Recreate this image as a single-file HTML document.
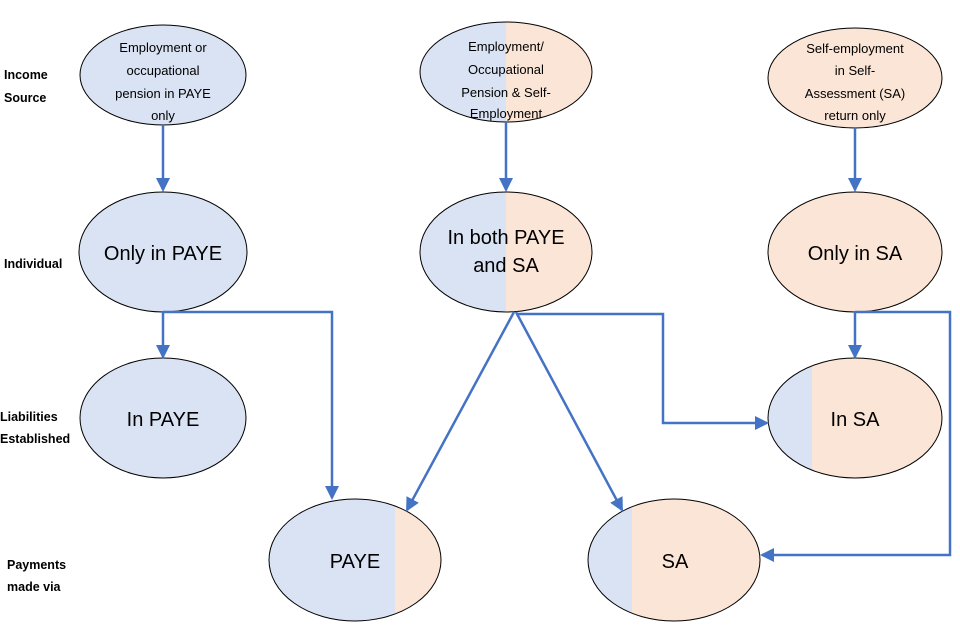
<!DOCTYPE html>
<html><head><meta charset="utf-8"><style>
html,body{margin:0;padding:0;background:#fff;}
svg{display:block;font-family:"Liberation Sans",sans-serif;}
</style></head><body>
<svg width="960" height="640" viewBox="0 0 960 640" xmlns="http://www.w3.org/2000/svg">
<defs>
<marker id="ah2" markerWidth="14" markerHeight="14" refX="12" refY="7" orient="auto" markerUnits="userSpaceOnUse" viewBox="0 0 14 14">
<path d="M0,0 L14,7 L0,14 z" fill="#4472c4"/></marker>
<clipPath id="c2"><ellipse cx="506" cy="72" rx="86" ry="50"/></clipPath>
<clipPath id="c5"><ellipse cx="506" cy="252" rx="86" ry="60"/></clipPath>
<clipPath id="c8"><ellipse cx="855" cy="418" rx="87" ry="60"/></clipPath>
<clipPath id="c9"><ellipse cx="355" cy="560" rx="86" ry="61"/></clipPath>
<clipPath id="c10"><ellipse cx="674" cy="560" rx="86" ry="61"/></clipPath>
</defs>
<g stroke="#000" stroke-width="1">
<ellipse cx="163" cy="75" rx="83" ry="50" fill="#dae3f3"/>
<g clip-path="url(#c2)"><rect x="420" y="20" width="86" height="110" fill="#dae3f3" stroke="none"/><rect x="506" y="20" width="90" height="110" fill="#fbe5d6" stroke="none"/></g>
<ellipse cx="506" cy="72" rx="86" ry="50" fill="none"/>
<ellipse cx="855" cy="78" rx="87" ry="50" fill="#fbe5d6"/>
<ellipse cx="163" cy="252" rx="84" ry="60" fill="#dae3f3"/>
<g clip-path="url(#c5)"><rect x="418" y="190" width="88" height="125" fill="#dae3f3" stroke="none"/><rect x="506" y="190" width="90" height="125" fill="#fbe5d6" stroke="none"/></g>
<ellipse cx="506" cy="252" rx="86" ry="60" fill="none"/>
<ellipse cx="855" cy="252" rx="87" ry="60" fill="#fbe5d6"/>
<ellipse cx="163" cy="418" rx="83" ry="60" fill="#dae3f3"/>
<g clip-path="url(#c8)"><rect x="766" y="355" width="46" height="125" fill="#dae3f3" stroke="none"/><rect x="812" y="355" width="135" height="125" fill="#fbe5d6" stroke="none"/></g>
<ellipse cx="855" cy="418" rx="87" ry="60" fill="none"/>
<g clip-path="url(#c9)"><rect x="266" y="496" width="129" height="128" fill="#dae3f3" stroke="none"/><rect x="395" y="496" width="50" height="128" fill="#fbe5d6" stroke="none"/></g>
<ellipse cx="355" cy="560" rx="86" ry="61" fill="none"/>
<g clip-path="url(#c10)"><rect x="586" y="496" width="46" height="128" fill="#dae3f3" stroke="none"/><rect x="632" y="496" width="132" height="128" fill="#fbe5d6" stroke="none"/></g>
<ellipse cx="674" cy="560" rx="86" ry="61" fill="none"/>
</g>
<g stroke="#4472c4" stroke-width="2.5" fill="none">
<line x1="163" y1="125" x2="163" y2="190" marker-end="url(#ah2)"/>
<line x1="506" y1="122" x2="506" y2="190" marker-end="url(#ah2)"/>
<line x1="855" y1="128" x2="855" y2="190" marker-end="url(#ah2)"/>
<line x1="163" y1="312" x2="163" y2="357" marker-end="url(#ah2)"/>
<polyline points="163,312 332,312 332,498" marker-end="url(#ah2)"/>
<line x1="514" y1="312" x2="407" y2="510" marker-end="url(#ah2)"/>
<line x1="516" y1="312" x2="622" y2="510" marker-end="url(#ah2)"/>
<polyline points="516,314 663,314 663,423 767,423" marker-end="url(#ah2)"/>
<line x1="855" y1="312" x2="855" y2="357" marker-end="url(#ah2)"/>
<polyline points="855,312 950,312 950,555 762,555" marker-end="url(#ah2)"/>
</g>
<g font-size="13" fill="#000" text-anchor="middle">
<text x="163" y="52">Employment or</text>
<text x="163" y="75">occupational</text>
<text x="163" y="98">pension in PAYE</text>
<text x="163" y="120">only</text>
<text x="506" y="51">Employment/</text>
<text x="506" y="74">Occupational</text>
<text x="506" y="97">Pension &amp; Self-</text>
<text x="506" y="118">Employment</text>
<text x="855" y="53">Self-employment</text>
<text x="855" y="75">in Self-</text>
<text x="855" y="98">Assessment (SA)</text>
<text x="855" y="120">return only</text>
</g>
<g font-size="20" fill="#000" text-anchor="middle">
<text x="163" y="260">Only in PAYE</text>
<text x="506" y="244">In both PAYE</text>
<text x="506" y="272">and SA</text>
<text x="855" y="260">Only in SA</text>
<text x="163" y="426">In PAYE</text>
<text x="855" y="426">In SA</text>
<text x="355" y="568">PAYE</text>
<text x="675" y="568">SA</text>
</g>
<g font-size="12.5" font-weight="bold" fill="#000">
<text x="4" y="79">Income</text>
<text x="4" y="102">Source</text>
<text x="4" y="268">Individual</text>
<text x="0" y="421">Liabilities</text>
<text x="0" y="443">Established</text>
<text x="7" y="569">Payments</text>
<text x="7" y="591">made via</text>
</g>
</svg>
</body></html>
